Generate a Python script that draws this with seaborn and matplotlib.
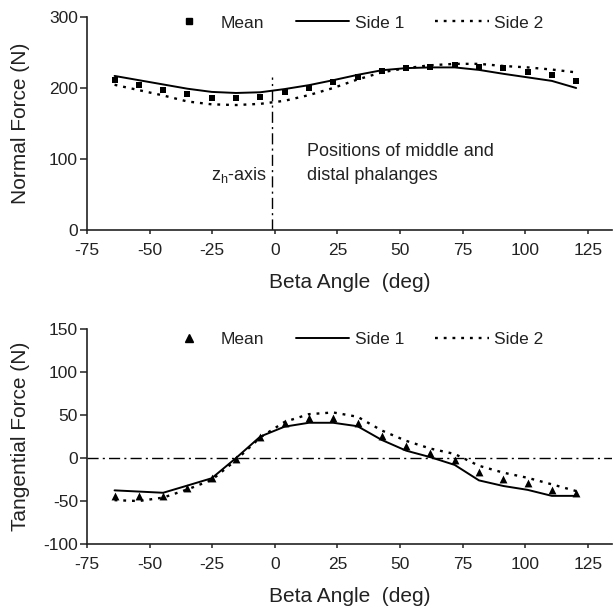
import numpy as np
import pandas as pd
import matplotlib
matplotlib.use("Agg")
import matplotlib.pyplot as plt
from matplotlib.lines import Line2D
import seaborn as sns

# ---------------- data ----------------
beta = [-64, -54.3, -44.6, -34.9, -25.2, -15.5, -5.8, 3.9, 13.6, 23.3,
        33, 42.7, 52.4, 62.1, 71.8, 81.5, 91.2, 100.9, 110.6, 120.3]

normal_mean = [211.6, 203.6, 197.5, 191.3, 185.7, 185.7, 187, 194, 200, 208,
               215, 224, 228, 230, 232, 230, 228, 222, 218, 210]
normal_side1 = [217, 211, 205, 199, 194.5, 193, 194, 198.5, 204, 211,
                218.5, 225, 228, 229, 229, 225.5, 220, 215, 210, 200]
normal_side2 = [204.5, 197, 189.5, 181, 177, 176, 177.7, 182, 190, 200,
                212, 222, 228, 232, 234, 234, 231, 229, 226, 222]

tang_mean = [-44, -44, -44, -34.5, -22.7, -1, 24, 40.8, 46, 46,
             41, 26, 13.7, 5.5, -2.4, -15.7, -24, -29, -37.6, -41]
tang_side1 = [-37.6, -39, -40.4, -32, -23.5, 0, 25, 36.5, 41, 41,
              37, 21, 8.6, 1, -8, -26, -32.5, -37, -44, -44]
tang_side2 = [-49, -50, -46, -36.5, -25.5, -2.4, 24, 42, 51, 53,
              48, 32, 20, 11, 4.7, -9, -17, -23, -30.6, -38.4]

zh_axis_x = -1
zh_axis_top = 215

x_ticks = [-75, -50, -25, 0, 25, 50, 75, 100, 125]
normal_ticks = [0, 100, 200, 300]
tang_ticks = [-100, -50, 0, 50, 100, 150]

# ---------------- style ----------------
sns.set_style("ticks")
plt.rcParams["font.family"] = ["Liberation Sans", "DejaVu Sans"]
plt.rcParams["mathtext.default"] = "regular"
plt.rcParams["axes.edgecolor"] = "#222222"
plt.rcParams["axes.linewidth"] = 1.2
plt.rcParams["xtick.color"] = "#222222"
plt.rcParams["ytick.color"] = "#222222"

dpi = 100
fig = plt.figure(figsize=(6.14, 6.09), dpi=dpi)
ax1 = fig.add_axes([0.1417, 0.6223, 0.855, 0.3498])
ax2 = fig.add_axes([0.1417, 0.1067, 0.855, 0.3530])

dotted = (0, (1.2, 2.5))
TXT = "#222222"
tick_fs = 12.5
leg_fs = 12.5
ann_fs = 13
lab_fs = 15


def draw(ax, mean, s1, s2, marker, msize):
    df = pd.DataFrame({"beta": beta, "mean": mean, "s1": s1, "s2": s2})
    sns.lineplot(data=df, x="beta", y="s1", ax=ax, color="black", lw=1.4,
                 sort=False)
    sns.lineplot(data=df, x="beta", y="s2", ax=ax, color="black", lw=1.7,
                 linestyle=dotted, sort=False)
    sns.scatterplot(data=df, x="beta", y="mean", ax=ax, color="black",
                    marker=marker, s=msize, edgecolor="black", linewidth=0,
                    zorder=5)
    ax.set_xlim(-75, 134.6)
    ax.set_xticks(x_ticks)
    ax.set_xticklabels([str(t) for t in x_ticks], fontsize=tick_fs, color=TXT)
    ax.tick_params(axis="x", direction="out", length=3, width=1.1, pad=6)
    ax.tick_params(axis="y", direction="out", length=5, width=1.1, pad=1.5)
    sns.despine(ax=ax)
    ax.set_xlabel("Beta Angle  (deg)", fontsize=lab_fs, color=TXT,
                  labelpad=11)
    handles = [
        Line2D([], [], color="black", marker=marker, ms=np.sqrt(msize),
               lw=0),
        Line2D([], [], color="black", lw=1.4),
        Line2D([], [], color="black", lw=1.7, linestyle=dotted),
    ]
    return handles


def add_legend(ax, handles, y):
    leg = ax.legend(handles, ["Mean", "Side 1", "Side 2"], ncol=3,
                    frameon=False, loc="center", bbox_to_anchor=(0.506, y),
                    fontsize=leg_fs, handlelength=3.1, handletextpad=0.3,
                    columnspacing=1.8, borderpad=0, borderaxespad=0)
    for t in leg.get_texts():
        t.set_color(TXT)


h1 = draw(ax1, normal_mean, normal_side1, normal_side2, "s", 24)
ax1.set_ylim(0, 300)
ax1.set_yticks(normal_ticks)
ax1.set_yticklabels([str(t) for t in normal_ticks], fontsize=tick_fs,
                    color=TXT)
ax1.set_ylabel("Normal Force (N)", fontsize=lab_fs, color=TXT)
ax1.yaxis.set_label_coords(-0.108, 0.5)
ax1.vlines(zh_axis_x, 0, zh_axis_top, colors="black", lw=1.0,
           linestyles=(0, (8, 3, 1.5, 3)))
ax1.text(12.7, 110, "Positions of middle and", fontsize=ann_fs, color=TXT,
         va="center", ha="left")
ax1.text(12.7, 77, "distal phalanges", fontsize=ann_fs, color=TXT,
         va="center", ha="left")
ax1.text(-3.3, 77, "z$_{h}$-axis", fontsize=ann_fs, color=TXT,
         va="center", ha="right")
add_legend(ax1, h1, 0.972)

h2 = draw(ax2, tang_mean, tang_side1, tang_side2, "^", 32)
ax2.set_ylim(-100, 150)
ax2.set_yticks(tang_ticks)
ax2.set_yticklabels([str(t) for t in tang_ticks], fontsize=tick_fs,
                    color=TXT)
ax2.set_ylabel("Tangential Force (N)", fontsize=lab_fs, color=TXT)
ax2.yaxis.set_label_coords(-0.108, 0.5)
ax2.axhline(0, color="black", lw=1.0, linestyle=(0, (8, 3, 1.5, 3)))
add_legend(ax2, h2, 0.953)

fig.savefig("out.png", dpi=dpi, facecolor="white")
